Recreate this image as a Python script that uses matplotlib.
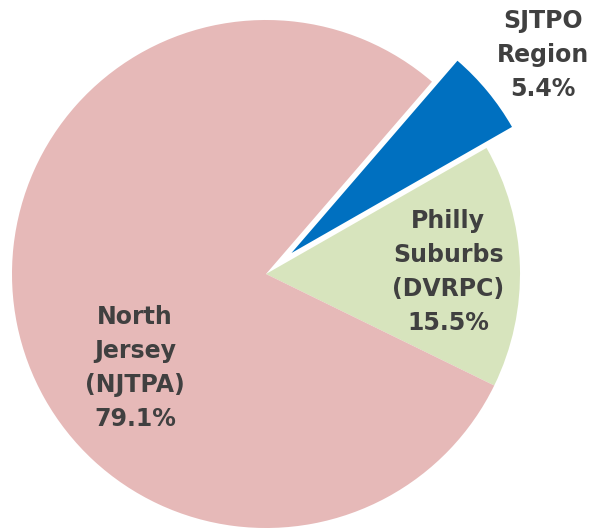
import matplotlib
matplotlib.use("Agg")
import matplotlib.pyplot as plt

regions = ["SJTPO\nRegion", "Philly\nSuburbs\n(DVRPC)", "North\nJersey\n(NJTPA)"]
shares = [5.4, 15.5, 79.1]
colors = ["#0070C0", "#D7E4BD", "#E6B9B8"]
explode = [0.13, 0, 0]

fig = plt.figure(figsize=(5.95, 5.28), dpi=100)
ax = fig.add_axes([0, 0, 1, 1])
ax.pie(shares, colors=colors, explode=explode, startangle=49.2,
       counterclock=False, radius=1.0, wedgeprops=dict(linewidth=0))
ax.set_aspect("auto")
ax.set_xlim(-266 / 254, (595 - 266) / 254)
ax.set_ylim(-254 / 254, (528 - 254) / 254)
ax.axis("off")

label_pos = [(1.091, 0.862), (0.717, 0.008), (-0.516, -0.370)]
for name, val, (x, y) in zip(regions, shares, label_pos):
    ax.text(x, y, f"{name}\n{val:.1f}%", ha="center", va="center",
            fontsize=17, fontweight="bold", color="#404040",
            family="DejaVu Sans", linespacing=1.52)

fig.savefig("out.png", dpi=100)
